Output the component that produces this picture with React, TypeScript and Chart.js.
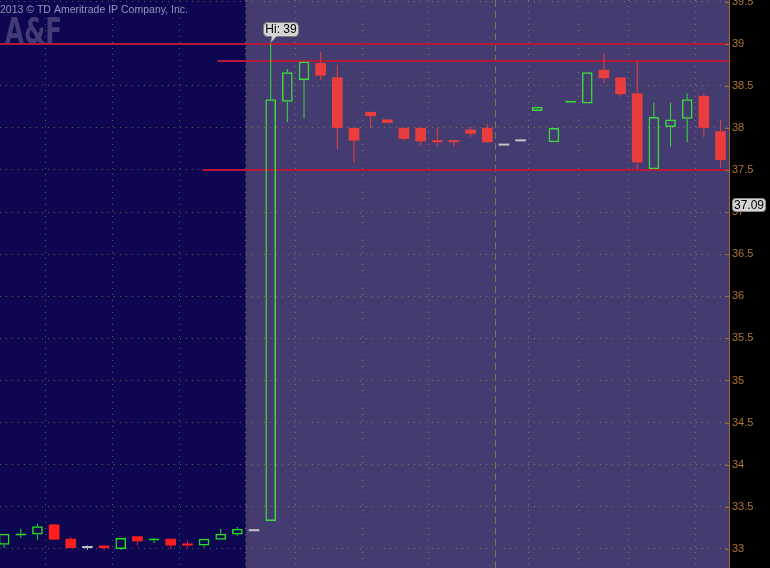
import React, { useEffect, useRef } from 'react';
import { Chart, registerables } from 'chart.js';

Chart.register(...registerables);

// ---- data (candles, index = bar number) ----
const opens = [
  33.05, 33.16, 33.17, 33.29, 33.12, 33.01, 33.04, 33.0, 33.15, 33.1, 33.12, 33.06, 33.04, 33.11, 33.17, 33.21,
  33.33, 38.31, 38.57, 38.77, 38.6, 38.0, 38.19, 38.1, 38.0, 38.0, 37.85, 37.85, 37.98, 38.0,
  37.79, 37.84, 38.2, 37.83, 38.3, 38.29, 38.69, 38.6, 38.41, 37.51, 38.01, 38.11, 38.38, 37.96,
];
const highs = [
  33.18, 33.24, 33.3, 33.3, 33.14, 33.04, 33.04, 33.13, 33.15, 33.13, 33.13, 33.1, 33.12, 33.24, 33.26, 33.21,
  39.0, 38.7, 38.79, 38.9, 38.75, 38.0, 38.19, 38.1, 38.0, 38.0, 38.0, 37.85, 38.01, 38.05,
  37.79, 37.84, 38.25, 38.0, 38.32, 38.66, 38.88, 38.6, 38.8, 38.3, 38.3, 38.41, 38.41, 38.1,
];
const lows = [
  33.01, 33.13, 33.11, 33.11, 33.01, 32.99, 32.98, 32.99, 33.04, 33.07, 33.0, 33.01, 33.02, 33.11, 33.15, 33.21,
  33.33, 38.07, 38.11, 38.57, 37.75, 37.59, 38.0, 38.06, 37.85, 37.79, 37.79, 37.78, 37.89, 37.82,
  37.79, 37.84, 38.2, 37.83, 38.3, 38.29, 38.53, 38.37, 37.51, 37.51, 37.78, 37.83, 37.89, 37.53,
];
const closes = [
  33.18, 33.18, 33.27, 33.11, 33.01, 33.01, 33.01, 33.13, 33.09, 33.12, 33.04, 33.04, 33.12, 33.18, 33.24, 33.21,
  38.34, 38.66, 38.79, 38.62, 38.0, 37.85, 38.14, 38.06, 37.87, 37.84, 37.83, 37.83, 37.93, 37.83,
  37.79, 37.84, 38.25, 38.0, 38.32, 38.66, 38.59, 38.4, 37.59, 38.13, 38.1, 38.34, 38.0, 37.62,
];

const priceTicks = [33, 33.5, 34, 34.5, 35, 35.5, 36, 36.5, 37, 37.5, 38, 38.5, 39, 39.5];
const timeGridBars = [2.5, 6.5, 10.5, 14.5, 17.5, 21.5, 25.5, 29.5, 31.5, 34.5, 37.5, 41.5];
const sessionBreakBar = 29.5;
const preMarketEndBar = 14.5;
const levelPrices = [39, 38.8, 37.5];
const levelStartBars = [-1, 12.8, 11.9];
const lastPrice = 37.09;
const symbolText = 'A&F';
const copyrightText = '2013 \u00A9 TD Ameritrade IP Company, Inc.';

// ---- styling ----
const FONT = '"Liberation Sans", Arial, sans-serif';
const BG_OUTER = '#000000';
const BG_PLOT = '#443c70';
const BG_PRE = '#0d0752';
const GRID = 'rgba(185,150,70,0.55)';
const BREAK_COLOR = '#7a774f';
const AXIS_COLOR = '#a06c28';
const LABEL_COLOR = '#b07430';
const LEVEL_COLOR = '#b3183a';
const GREY = '#c4c4c4';

const dirOf = (i: number) => (closes[i] > opens[i] ? 1 : closes[i] < opens[i] ? -1 : 0);
const colorOf = (i: number) => {
  const pre = i < preMarketEndBar;
  const d = dirOf(i);
  if (d > 0) return pre ? '#22e022' : '#3cd83c';
  if (d < 0) return pre ? '#ff1e1e' : '#ea3d3d';
  return GREY;
};

const barIdx = opens.map((_, i) => i);
const bodyData = barIdx.map((i) => ({ x: i, y: [opens[i], closes[i]] }));
const upperWickData = barIdx
  .filter((i) => highs[i] > Math.max(opens[i], closes[i]))
  .map((i) => ({ x: i, y: [Math.max(opens[i], closes[i]), highs[i]], i }));
const lowerWickData = barIdx
  .filter((i) => lows[i] < Math.min(opens[i], closes[i]))
  .map((i) => ({ x: i, y: [lows[i], Math.min(opens[i], closes[i])], i }));

function roundRect(ctx: CanvasRenderingContext2D, x: number, y: number, w: number, h: number, r: number) {
  ctx.beginPath();
  ctx.moveTo(x + r, y);
  ctx.lineTo(x + w - r, y);
  ctx.quadraticCurveTo(x + w, y, x + w, y + r);
  ctx.lineTo(x + w, y + h - r);
  ctx.quadraticCurveTo(x + w, y + h, x + w - r, y + h);
  ctx.lineTo(x + r, y + h);
  ctx.quadraticCurveTo(x, y + h, x, y + h - r);
  ctx.lineTo(x, y + r);
  ctx.quadraticCurveTo(x, y, x + r, y);
  ctx.closePath();
}

const decorPlugin = {
  id: 'tosDecor',
  beforeDraw(chart: any) {
    const { ctx, chartArea: a } = chart;
    const xs = chart.scales.x;
    ctx.save();
    ctx.fillStyle = BG_OUTER;
    ctx.fillRect(0, 0, chart.width, chart.height);
    ctx.fillStyle = BG_PLOT;
    ctx.fillRect(a.left, a.top, a.right - a.left, a.bottom - a.top);
    const xe = xs.getPixelForValue(preMarketEndBar);
    ctx.fillStyle = BG_PRE;
    ctx.fillRect(a.left, a.top, xe - a.left, a.bottom - a.top);
    ctx.restore();
  },
  beforeDatasetsDraw(chart: any) {
    const { ctx, chartArea: a } = chart;
    const xs = chart.scales.x;
    const ys = chart.scales.y;
    ctx.save();
    // watermark symbol
    ctx.font = `bold 36px "DejaVu Sans", ${FONT}`;
    ctx.fillStyle = '#403d76';
    ctx.textBaseline = 'alphabetic';
    const sw = ctx.measureText(symbolText).width;
    ctx.save();
    ctx.translate(a.left + 5, 43);
    ctx.scale(57 / sw, 1);
    ctx.fillText(symbolText, 0, 0);
    ctx.restore();
    // copyright
    ctx.font = `10px ${FONT}`;
    ctx.fillStyle = '#9694bc';
    const cw = ctx.measureText(copyrightText).width;
    ctx.save();
    ctx.translate(a.left, 13);
    ctx.scale(188 / cw, 1);
    ctx.fillText(copyrightText, 0, 0);
    ctx.restore();
    // price level lines
    ctx.strokeStyle = LEVEL_COLOR;
    ctx.lineWidth = 2;
    levelPrices.forEach((p, k) => {
      const y = Math.round(ys.getPixelForValue(p));
      const x0 = Math.max(a.left, xs.getPixelForValue(levelStartBars[k]));
      ctx.beginPath();
      ctx.moveTo(x0, y);
      ctx.lineTo(a.right, y);
      ctx.stroke();
    });
    ctx.restore();
  },
  afterDraw(chart: any) {
    const { ctx, chartArea: a } = chart;
    const xs = chart.scales.x;
    const ys = chart.scales.y;
    ctx.save();
    // price axis line and inner tick marks
    ctx.strokeStyle = AXIS_COLOR;
    ctx.lineWidth = 1;
    ctx.beginPath();
    ctx.moveTo(Math.round(a.right) + 0.5, 0);
    ctx.lineTo(Math.round(a.right) + 0.5, chart.height);
    ctx.stroke();
    priceTicks.forEach((v) => {
      const y = Math.round(ys.getPixelForValue(v)) + 0.5;
      ctx.beginPath();
      ctx.moveTo(a.right - 4, y);
      ctx.lineTo(a.right, y);
      ctx.stroke();
    });
    // high bubble
    let hiIdx = 0;
    highs.forEach((h, i) => {
      if (h > highs[hiIdx]) hiIdx = i;
    });
    const cx = xs.getPixelForValue(hiIdx);
    const yHi = ys.getPixelForValue(highs[hiIdx]);
    const bx = Math.round(cx - 7.5) + 0.5;
    const bTop = Math.round(yHi - 22) + 0.5;
    const bw = 35;
    const bh = 14;
    ctx.fillStyle = '#d6d6d6';
    ctx.strokeStyle = '#7c7c7c';
    roundRect(ctx, bx, bTop, bw, bh, 4);
    ctx.fill();
    ctx.stroke();
    ctx.beginPath();
    ctx.moveTo(cx + 1, bTop + bh - 0.5);
    ctx.lineTo(cx + 6, bTop + bh - 0.5);
    ctx.lineTo(cx, yHi - 1);
    ctx.closePath();
    ctx.fill();
    ctx.beginPath();
    ctx.moveTo(cx + 6, bTop + bh);
    ctx.lineTo(cx, yHi - 1);
    ctx.lineTo(cx + 1, bTop + bh);
    ctx.stroke();
    ctx.fillStyle = '#000';
    ctx.font = `12px ${FONT}`;
    ctx.textBaseline = 'middle';
    ctx.textAlign = 'center';
    ctx.fillText(`Hi: ${highs[hiIdx]}`, bx + bw / 2, bTop + bh / 2 + 0.5);
    // last price label
    const yl = ys.getPixelForValue(lastPrice);
    const lx = a.right + 3.5;
    const lw = 33;
    const lh = 13;
    const ly = Math.round(yl - lh / 2) + 0.5;
    ctx.fillStyle = '#d4d4d4';
    ctx.strokeStyle = '#8a8a8a';
    roundRect(ctx, lx, ly, lw, lh, 3);
    ctx.fill();
    ctx.stroke();
    ctx.fillStyle = '#000';
    ctx.fillText(lastPrice.toFixed(2), lx + lw / 2, ly + lh / 2 + 0.5);
    ctx.restore();
  },
};

export default function App() {
  const ref = useRef<HTMLCanvasElement>(null);
  useEffect(() => {
    if (!ref.current) return;
    const chart = new Chart(ref.current, {
      type: 'bar',
      data: {
        datasets: [
          {
            label: 'upper',
            data: upperWickData as any,
            backgroundColor: (c: any) => colorOf(c.raw ? c.raw.i : 0),
            grouped: false,
            barThickness: 1,
            inflateAmount: 0,
            borderWidth: 0,
            order: 2,
          } as any,
          {
            label: 'lower',
            data: lowerWickData as any,
            backgroundColor: (c: any) => colorOf(c.raw ? c.raw.i : 0),
            grouped: false,
            barThickness: 1,
            inflateAmount: 0,
            borderWidth: 0,
            order: 1,
          } as any,
          {
            label: 'body',
            data: bodyData as any,
            backgroundColor: (c: any) => (dirOf(c.dataIndex) > 0 ? 'rgba(0,0,0,0)' : colorOf(c.dataIndex)),
            borderColor: (c: any) => colorOf(c.dataIndex),
            borderWidth: (c: any) => (dirOf(c.dataIndex) > 0 ? 1.5 : 0),
            borderSkipped: false,
            minBarLength: 2,
            grouped: false,
            categoryPercentage: 1,
            barPercentage: 0.64,
            inflateAmount: 0,
            order: 0,
          } as any,
        ],
      },
      options: {
        animation: false,
        responsive: false,
        events: [],
        layout: { padding: 0, autoPadding: false } as any,
        plugins: { legend: { display: false }, tooltip: { enabled: false } },
        scales: {
          x: {
            type: 'linear',
            min: -0.248,
            max: 43.509,
            offset: false,
            grid: {
              offset: false,
              drawTicks: false,
              lineWidth: 1,
              color: (c: any) => (c.tick && c.tick.value === sessionBreakBar ? BREAK_COLOR : GRID),
            },
            border: {
              display: false,
              dash: (c: any) => (c.tick && c.tick.value === sessionBreakBar ? [7, 4] : [1, 5]),
            } as any,
            ticks: { display: false },
            afterBuildTicks: (s: any) => {
              s.ticks = timeGridBars.map((v) => ({ value: v }));
            },
          },
          y: {
            type: 'linear',
            position: 'right',
            min: 32.773,
            max: 39.519,
            grid: { drawTicks: false, color: GRID, lineWidth: 1 },
            border: { display: false, dash: [1, 5] } as any,
            ticks: {
              color: LABEL_COLOR,
              padding: 3,
              autoSkip: false,
              font: { family: FONT, size: 11 },
              callback: (v: any) => String(v),
            },
            afterBuildTicks: (s: any) => {
              s.ticks = priceTicks.map((v) => ({ value: v }));
            },
            afterFit: (s: any) => {
              s.width = 41;
              s.paddingTop = 0;
              s.paddingBottom = 0;
            },
          },
        },
      },
      plugins: [decorPlugin],
    } as any);
    return () => chart.destroy();
  }, []);
  return (
    <div style={{ position: 'fixed', left: 0, top: 0, width: 770, height: 568, background: '#000' }}>
      <canvas ref={ref} width={770} height={568} style={{ display: 'block' }} />
    </div>
  );
}
